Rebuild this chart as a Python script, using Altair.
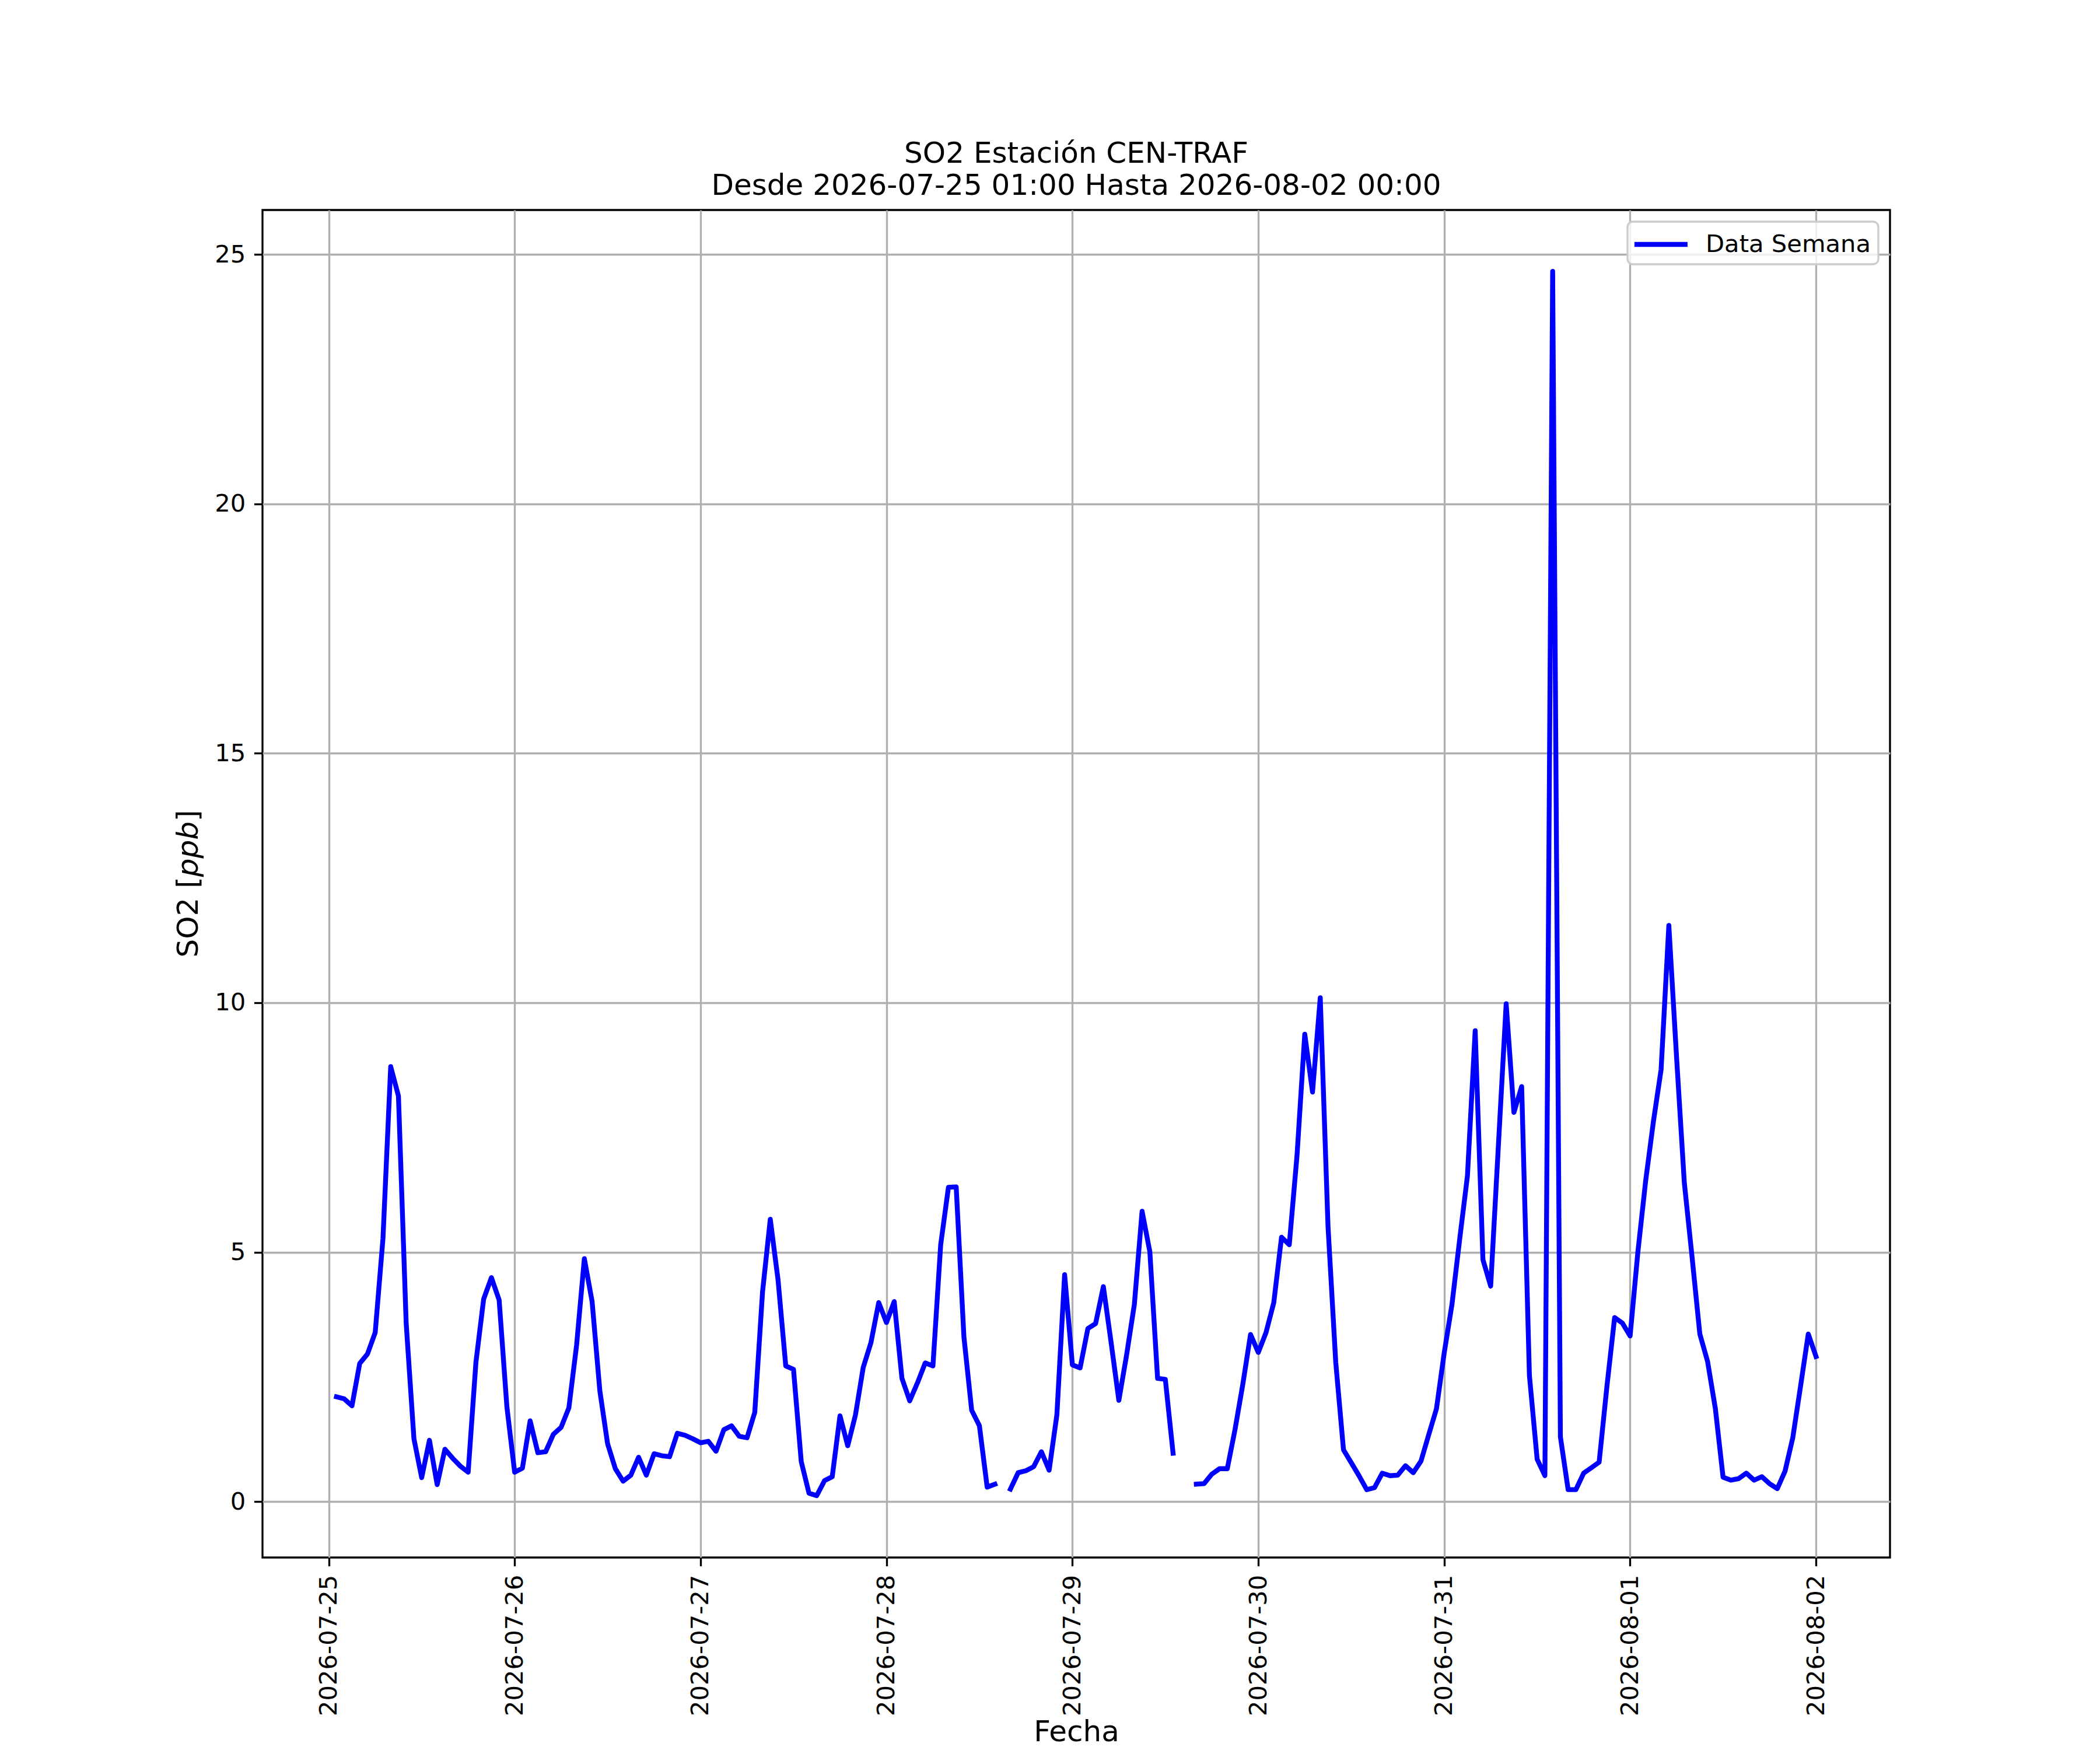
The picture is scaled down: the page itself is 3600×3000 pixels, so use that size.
import altair as alt
import pandas as pd

# ---- data (hourly SO2, ppb) ----
inicio = "2026-07-25 01:00"
so2_0725 = [2.10, 2.06, 1.92, 2.77, 2.96, 3.39, 5.27, 8.72, 8.13, 3.57, 1.26, 0.48,
            1.23, 0.34, 1.05, 0.87, 0.71, 0.59, 2.79, 4.06, 4.49, 4.04, 1.90]          # 01..23
so2_0726 = [0.59, 0.67, 1.62, 0.98, 1.00, 1.35, 1.49, 1.88, 3.14, 4.87, 4.01, 2.22,
            1.16, 0.66, 0.41, 0.53, 0.89, 0.53, 0.96, 0.92, 0.90, 1.37, 1.33, 1.26]
so2_0727 = [1.18, 1.21, 1.01, 1.44, 1.52, 1.31, 1.28, 1.79, 4.20, 5.66, 4.45, 2.72,
            2.65, 0.80, 0.17, 0.12, 0.42, 0.50, 1.72, 1.12, 1.74, 2.69, 3.19, 3.99]
so2_0728 = [3.59, 4.01, 2.47, 2.02, 2.38, 2.78, 2.72, 5.15, 6.30, 6.31, 3.30, 1.83,
            1.52, 0.29, 0.35, None, 0.25, 0.58, 0.62, 0.70, 1.00, 0.63, 1.74, 4.55]
so2_0729 = [2.74, 2.68, 3.47, 3.57, 4.31, 3.19, 2.03, 2.94, 3.95, 5.82, 5.01, 2.47,
            2.45, 0.97, None, None, 0.35, 0.36, 0.55, 0.66, 0.66, 1.45, 2.35, 3.35]
so2_0730 = [2.99, 3.39, 3.99, 5.30, 5.15, 6.94, 9.37, 8.21, 10.10, 5.52, 2.79, 1.04,
            0.78, 0.52, 0.24, 0.28, 0.57, 0.52, 0.53, 0.72, 0.58, 0.81, 1.34, 1.86]
so2_0731 = [2.98, 3.95, 5.26, 6.53, 9.44, 4.85, 4.32, 7.15, 9.98, 7.80, 8.32, 2.53,
            0.85, 0.52, 24.66, 1.30, 0.24, 0.24, 0.57, 0.68, 0.79, 2.30, 3.69, 3.58]
so2_0801 = [3.32, 5.00, 6.42, 7.61, 8.66, 11.55, 8.90, 6.39, 4.90, 3.36, 2.81, 1.87,
            0.49, 0.43, 0.46, 0.57, 0.43, 0.50, 0.36, 0.26, 0.61, 1.28, 2.31, 3.36]
so2_0802 = [2.91]

so2 = (so2_0725 + so2_0726 + so2_0727 + so2_0728 + so2_0729 +
       so2_0730 + so2_0731 + so2_0801 + so2_0802)

serie = "Data Semana"
titulo = ["SO2 Estación CEN-TRAF", "Desde 2026-07-25 01:00 Hasta 2026-08-02 00:00"]
dias = [(7, 25), (7, 26), (7, 27), (7, 28), (7, 29), (7, 30), (7, 31), (8, 1), (8, 2)]
y_ticks = [0, 5, 10, 15, 20, 25]
y_dom = [-1.12, 25.89]
x_dom = [alt.DateTime(year=2026, month=7, date=24, hours=15, minutes=27),
         alt.DateTime(year=2026, month=8, date=2, hours=9, minutes=33)]

fecha = pd.date_range(inicio, periods=len(so2), freq="h")
df = pd.DataFrame({"fecha": fecha, "so2": pd.array(so2, dtype="Float64").astype(float)})
df["serie"] = serie
df["tramo"] = df["so2"].isna().cumsum()
df = df.dropna(subset=["so2"]).reset_index(drop=True)

FONT = "DejaVu Sans"
W, H = 2790, 2310

line = alt.Chart(df).mark_line(
    strokeWidth=8.33, strokeCap="square", strokeJoin="round"
).encode(
    x=alt.X("fecha:T",
            scale=alt.Scale(domain=x_dom, nice=False),
            axis=alt.Axis(values=[alt.DateTime(year=2026, month=m, date=d) for m, d in dias],
                          format="%Y-%m-%d", labelAngle=270, labelAlign="right",
                          labelBaseline="middle", labelLimit=1000,
                          title="Fecha", titleFontSize=50,
                          titleY=314, titleBaseline="alphabetic")),
    y=alt.Y("so2:Q",
            scale=alt.Scale(domain=y_dom, nice=False, zero=False),
            axis=alt.Axis(values=y_ticks, format="d", title=None)),
    color=alt.Color("serie:N", scale=alt.Scale(range=["#0000ff"]),
                    legend=alt.Legend(title=None, orient="top-right", offset=20,
                                      symbolType="M-1.19,0H2.81", symbolSize=2070,
                                      symbolStrokeWidth=8.33, labelOffset=68,
                                      labelLimit=1000,
                                      padding=12, cornerRadius=9,
                                      fillColor="rgba(255,255,255,0.8)",
                                      strokeColor="#cccccc")),
    detail="tramo:N",
)

# y-axis title: "SO2 [" + italic "ppb" + "]"
ylab_parts = [("SO2 [", "normal", 1281.5), ("ppb", "italic", 1143.2), ("]", "normal", 1048.0)]
ylab_layers = []
for txt, style, ypos in ylab_parts:
    ylab_layers.append(
        alt.Chart(pd.DataFrame({"t": [txt]})).mark_text(
            angle=270, align="left", baseline="alphabetic", font=FONT, fontSize=50,
            fontStyle=style, color="black"
        ).encode(text="t:N", x=alt.value(-111), y=alt.value(ypos))
    )

chart = alt.layer(line, *ylab_layers).properties(
    width=W, height=H,
    autosize=alt.AutoSizeParams(type="none"),
    padding={"left": 442, "top": 352, "right": 352, "bottom": 330},
    title=alt.TitleParams(text=titulo, font=FONT, fontSize=50, fontWeight="normal",
                          color="black", anchor="middle", frame="group",
                          baseline="bottom", lineHeight=55, offset=-34),
    background="white",
).configure_view(
    stroke="black", strokeWidth=3.33
).configure_axis(
    domain=False, grid=True, gridColor="#b0b0b0", gridWidth=3.33,
    ticks=True, tickColor="black", tickWidth=3.33, tickSize=14.6,
    labelFont=FONT, labelFontSize=41.7, labelColor="black", labelPadding=14.6,
    labelOverlap=False, labelFlush=False, labelBound=False,
    titleFont=FONT, titleFontWeight="normal", titleColor="black",
).configure_legend(
    labelFont=FONT, labelFontSize=41.7, labelColor="black", strokeWidth=3.3,
)

chart.save("out.html", embed_options={"renderer": "svg", "actions": False})
